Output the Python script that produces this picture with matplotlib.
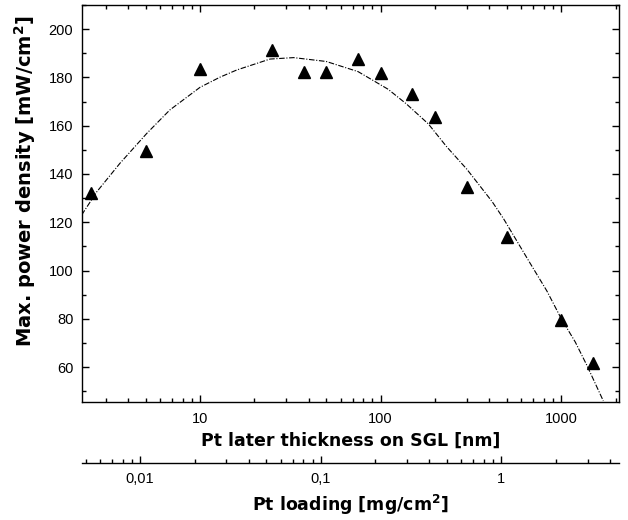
#!/usr/bin/env python3
"""Max. power density vs Pt layer thickness, with Pt loading as second x axis."""

import matplotlib
matplotlib.use("Agg")
import matplotlib.pyplot as plt
from matplotlib.ticker import FixedLocator, FixedFormatter, LogLocator, NullFormatter, MultipleLocator

plt.rcParams["font.family"] = ["Liberation Sans", "DejaVu Sans"]
plt.rcParams["mathtext.fontset"] = "dejavusans"

# measured points (triangles)
thickness_nm = [2.5, 5, 10, 25, 37.5, 50, 75, 100, 150, 200, 300, 500, 1000, 1500]
power_density = [132.2, 149.5, 183.4, 191.4, 182.4, 182.4, 187.7, 182.0, 173.2, 163.5,
                 134.4, 113.7, 79.4, 61.8]

# fitted curve
fit_x = [2.21, 2.68, 3.6, 5.07, 6.8, 10, 12.9, 16, 24.4, 33, 50, 75, 110, 139, 184,
         232, 300, 414, 480, 673, 832, 1000, 1196, 1390, 1710]
fit_y = [123.0, 132.6, 144.4, 156.8, 166.5, 175.9, 180.1, 183.1, 187.6, 188.2, 186.6,
         182.4, 175.1, 169.0, 160.7, 151.3, 142.0, 128.6, 121.4, 103.0, 91.6, 80.1,
         70.4, 60.6, 46.0]

x_ticks = [10, 100, 1000]
x_ticklabels = ["10", "100", "1000"]
load_ticks = [0.01, 0.1, 1]
load_ticklabels = ["0,01", "0,1", "1"]

# Pt density 21.45 g/cm3 -> 1 nm = 2.145e-3 mg/cm2
NM_TO_LOADING = 2.145e-3

LABEL_FONT = {"family": ["DejaVu Sans"], "weight": "bold"}


def to_loading(t):
    return t * NM_TO_LOADING


def to_thickness(l):
    return l / NM_TO_LOADING


fig = plt.figure(figsize=(6.28, 5.2), dpi=100)
ax = fig.add_axes([0.130, 0.2263, 0.8557, 0.7641])

ax.plot(fit_x, fit_y, color="black", lw=0.8, linestyle=(0, (5, 1.5, 1, 1.5)))
ax.plot(thickness_nm, power_density, linestyle="none", marker="^", ms=9,
        color="black")

ax.set_xscale("log")
ax.set_xlim(2.21, 2090)
ax.set_ylim(45.4, 210)

ax.xaxis.set_major_locator(FixedLocator(x_ticks))
ax.xaxis.set_major_formatter(FixedFormatter(x_ticklabels))
ax.xaxis.set_minor_locator(LogLocator(base=10, subs=range(2, 10)))
ax.xaxis.set_minor_formatter(NullFormatter())
ax.yaxis.set_major_locator(MultipleLocator(20))
ax.yaxis.set_minor_locator(MultipleLocator(10))

ax.tick_params(which="both", direction="in", top=True, right=True, labelsize=10.5,
               width=1)
ax.tick_params(which="major", length=5, pad=6)
ax.tick_params(axis="x", which="major", pad=7)
ax.tick_params(which="minor", length=3)
for sp in ax.spines.values():
    sp.set_linewidth(1)

ax.set_xlabel("Pt later thickness on SGL [nm]", fontsize=12.5, labelpad=4,
              fontdict=LABEL_FONT)
ax.set_ylabel("Max. power density [mW/cm$^\\mathbf{2}$]", fontsize=14,
              fontdict=LABEL_FONT)
# label sits a bit above the axis centre in the original
ax.yaxis.set_label_coords(-0.0815, 0.557)

sec = ax.secondary_xaxis(-0.1535, functions=(to_loading, to_thickness))
sec.xaxis.set_major_locator(FixedLocator(load_ticks))
sec.xaxis.set_major_formatter(FixedFormatter(load_ticklabels))
sec.xaxis.set_minor_locator(LogLocator(base=10, subs=range(2, 10)))
sec.xaxis.set_minor_formatter(NullFormatter())
sec.tick_params(which="both", direction="in", labelsize=10.5, width=1)
sec.tick_params(which="major", length=5, pad=6)
sec.tick_params(which="minor", length=3)
sec.spines["bottom"].set_linewidth(1)
sec.set_xlabel("Pt loading [mg/cm$^\\mathbf{2}$]", fontsize=12.5, labelpad=5,
               fontdict=LABEL_FONT)

fig.savefig("out.png", dpi=100)
